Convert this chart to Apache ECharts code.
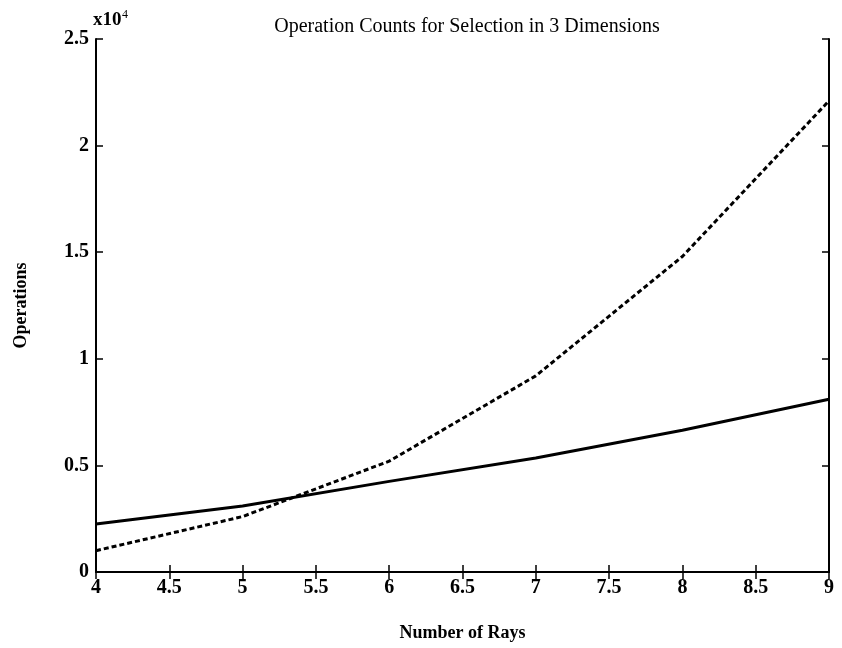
<!DOCTYPE html>
<html><head><meta charset="utf-8">
<script src="https://cdn.jsdelivr.net/npm/echarts@6/dist/echarts.min.js"></script>
<style>html,body{margin:0;padding:0;background:#fff}#c{width:842px;height:648px}</style>
</head><body><div id="c"></div>
<script>
const rays = [4, 5, 6, 7, 8, 9];
const solidOps = [2250, 3100, 4250, 5350, 6650, 8100];
const dashedOps = [1000, 2600, 5200, 9200, 14800, 22100];
const xTicks = [4, 4.5, 5, 5.5, 6, 6.5, 7, 7.5, 8, 8.5, 9];
const yTicks = [0, 0.5, 1, 1.5, 2, 2.5];

const font = 'Liberation Serif';
const chart = echarts.init(document.getElementById('c'));
const axisLine = {show: true, lineStyle: {color: '#000', width: 2}};
const tickIn = {show: true, inside: true, length: 7, lineStyle: {color: '#000', width: 1.5}};
chart.setOption({
  animation: false,
  title: {text: 'Operation Counts for Selection in 3 Dimensions', left: 462, top: 12, textAlign: 'center',
    textStyle: {fontFamily: font, fontSize: 20, fontWeight: 'normal', color: '#000'}},
  graphic: [{type: 'text', left: 93, top: 11, style: {text: 'x10', font: 'bold 19px "Liberation Serif"', fill: '#000'}},
            {type: 'text', left: 122, top: 9, style: {text: '4', font: '12px "Liberation Serif"', fill: '#000'}}],
  grid: {left: 96, right: 13, top: 39, bottom: 76},
  xAxis: [{type: 'value', min: 4, max: 9, interval: 0.5, position: 'bottom',
    name: 'Number of Rays', nameLocation: 'middle', nameGap: 52,
    nameTextStyle: {fontFamily: font, fontSize: 18, fontWeight: 'bold', color: '#000'},
    axisLine: axisLine, axisTick: tickIn, splitLine: {show: false},
    axisLabel: {fontFamily: font, fontSize: 20, fontWeight: 'bold', color: '#000', margin: 6,
      formatter: v => xTicks.includes(v) ? String(v) : ''}},
    {type: 'value', min: 4, max: 9, interval: 0.5, position: 'top',
    axisLine: axisLine, axisTick: tickIn, axisLabel: {show: false}, splitLine: {show: false}}],
  yAxis: [{type: 'value', min: 0, max: 25000, interval: 5000, position: 'left',
    name: 'Operations', nameLocation: 'middle', nameGap: 66,
    nameTextStyle: {fontFamily: font, fontSize: 18, fontWeight: 'bold', color: '#000'},
    axisLine: axisLine, axisTick: tickIn, splitLine: {show: false},
    axisLabel: {fontFamily: font, fontSize: 20, fontWeight: 'bold', color: '#000', margin: 7,
      formatter: v => { const t = v / 10000; return yTicks.includes(t) ? String(t) : ''; }}},
    {type: 'value', min: 0, max: 25000, interval: 5000, position: 'right',
    axisLine: axisLine, axisTick: tickIn, axisLabel: {show: false}, splitLine: {show: false}}],
  series: [
    {type: 'line', data: rays.map((r, i) => [r, solidOps[i]]), showSymbol: false,
      lineStyle: {color: '#000', width: 3, type: 'solid'}},
    {type: 'line', data: rays.map((r, i) => [r, dashedOps[i]]), showSymbol: false,
      lineStyle: {color: '#000', width: 3, type: [5, 3]}}
  ]
});
</script></body></html>
